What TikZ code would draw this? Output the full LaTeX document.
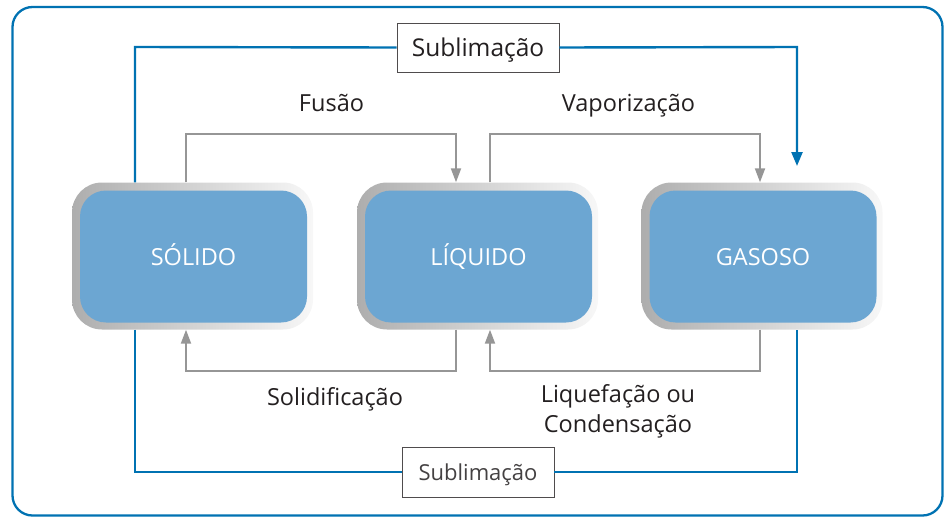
\documentclass[tikz,border=0pt]{standalone}
\usepackage{fontspec}
\setmainfont{Open Sans}
\usetikzlibrary{arrows.meta,calc}
\definecolor{frameblue}{RGB}{0,114,178}
\definecolor{boxblue}{RGB}{108,166,210}
\definecolor{conngray}{RGB}{150,150,150}
\definecolor{txt}{RGB}{35,31,32}
\begin{document}
\begin{tikzpicture}[x=1pt,y=-1pt,
  statebox/.style={minimum width=241pt, minimum height=147pt, rounded corners=30pt,
    left color=black!32, right color=black!3, inner sep=0pt},
  stateinner/.style={minimum width=227pt, minimum height=132pt, rounded corners=26pt,
    fill=boxblue, text=white, font=\fontsize{23.5}{28}\selectfont, inner sep=0pt,
    text height=17pt, text depth=0pt},
  grayconn/.style={draw=conngray, line width=2pt},
  grayarrow/.style={grayconn, -{Triangle[length=14pt,width=10pt]}},
  blueconn/.style={draw=frameblue, line width=2.4pt},
  bluearrow/.style={blueconn, -{Triangle[length=14pt,width=11pt]}},
  lbl/.style={text=txt, font=\fontsize{23.5}{30}\selectfont, inner sep=0pt, anchor=base},
  sublbox/.style={draw=txt!80, line width=0.8pt, fill=white, text=txt, inner sep=0pt,
    text height=17pt, text depth=0pt},
]
\useasboundingbox (0,0) rectangle (944,517);
\draw[frameblue, line width=2.3pt, rounded corners=20pt] (12.5,7) rectangle (942.5,515.5);

% state boxes
\node[statebox] (solid) at (192.5,256) {};
\node[statebox] (liquid) at (477.5,256) {};
\node[statebox] (gas) at (762,256) {};
\node[stateinner] (solidI) at (193.5,256.5) {SÓLIDO};
\node[stateinner] (liquidI) at (478.5,256.5) {LÍQUIDO};
\node[stateinner] (gasI) at (763,256.5) {GASOSO};

% routing points
\coordinate (fus1) at (186,134);
\coordinate (fus2) at (456,134);
\coordinate (vap1) at (490,134);
\coordinate (vap2) at (760,134);
\coordinate (sol1) at (456,371);
\coordinate (sol2) at (186,371);
\coordinate (liq1) at (760,371);
\coordinate (liq2) at (490,371);
\coordinate (st1) at (135,47);
\coordinate (st2) at (797,47);
\coordinate (stEnd) at (797,166);
\coordinate (sb1) at (135,472);
\coordinate (sb2) at (797,472);

% sublimation label boxes
\node[sublbox, minimum width=162pt, minimum height=49pt, font=\fontsize{24.5}{28}\selectfont] (subTop) at (478,47.5) {Sublimação};
\node[sublbox, minimum width=152pt, minimum height=50pt, font=\fontsize{22}{26}\selectfont, text=txt!85] (subBot) at (478,472) {Sublimação};

% gray connectors
\draw[grayarrow] (fus1 |- solid.north) -- (fus1) -- (fus2) -- (fus2 |- liquid.north);
\draw[grayarrow] (vap1 |- liquid.north) -- (vap1) -- (vap2) -- (vap2 |- gas.north);
\draw[grayarrow] (sol1 |- liquid.south) -- (sol1) -- (sol2) -- (sol2 |- solid.south);
\draw[grayarrow] (liq1 |- gas.south) -- (liq1) -- (liq2) -- (liq2 |- liquid.south);

% blue connectors
\draw[blueconn] (st1 |- solid.north) -- (st1) -- (subTop.west);
\draw[bluearrow] (subTop.east) -- (st2) -- (stEnd);
\draw[blueconn] (sb1 |- solid.south) -- (sb1) -- (subBot.west);
\draw[blueconn] (subBot.east) -- (sb2) -- (sb2 |- gas.south);

% labels
\node[lbl] (lfus) at (331.5,111.5) {Fusão};
\node[lbl] (lvap) at (628.5,111.5) {Vaporização};
\node[lbl] (lsol) at (335,405) {Solidificação};
\node[lbl] (lliq1) at (618,402) {Liquefação ou};
\node[lbl] (lliq2) at (618,432) {Condensação};
\end{tikzpicture}
\end{document}
